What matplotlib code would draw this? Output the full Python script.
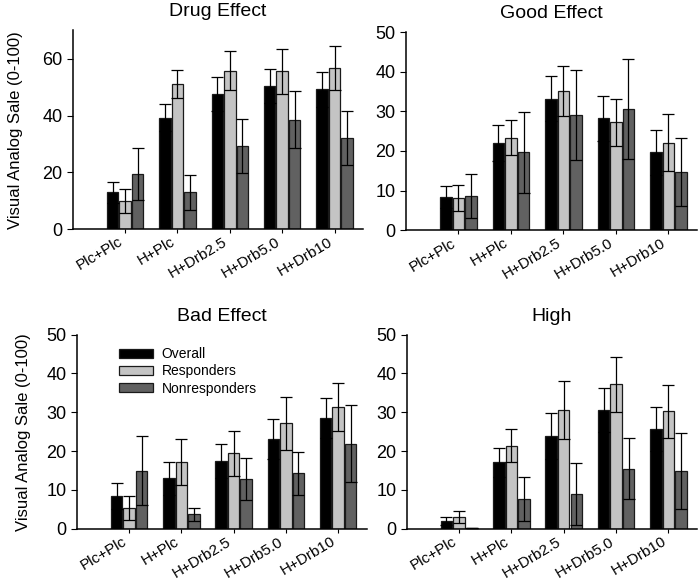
import matplotlib
matplotlib.use('Agg')
import matplotlib.pyplot as plt
import numpy as np

plt.rcParams['font.family'] = ['Liberation Sans', 'DejaVu Sans']

groups = ['Plc+Plc', 'H+Plc', 'H+Drb2.5', 'H+Drb5.0', 'H+Drb10']
series = ['Overall', 'Responders', 'Nonresponders']
colors = ['#000000', '#c4c4c4', '#616161']

# means and error (SEM) per panel, rows = Overall, Responders, Nonresponders
drug_mean = [[12.9, 39.3, 47.5, 50.5, 49.2],
             [10.0, 51.1, 55.8, 55.6, 56.8],
             [19.4, 12.9, 29.3, 38.5, 32.0]]
drug_err = [[3.8, 4.8, 6.0, 6.0, 6.2],
            [4.3, 5.0, 6.9, 7.9, 7.7],
            [9.0, 6.2, 9.5, 10.0, 9.5]]

good_mean = [[8.3, 22.1, 33.2, 28.2, 19.7],
             [8.2, 23.4, 35.2, 27.2, 22.1],
             [8.6, 19.7, 29.1, 30.6, 14.7]]
good_err = [[2.8, 4.5, 5.6, 5.6, 5.7],
            [3.3, 4.5, 6.3, 6.0, 7.2],
            [5.6, 10.2, 11.3, 12.5, 8.7]]

bad_mean = [[8.4, 13.0, 17.5, 23.1, 28.5],
            [5.4, 17.2, 19.5, 27.2, 31.4],
            [15.0, 3.7, 12.9, 14.3, 21.9]]
bad_err = [[3.3, 4.2, 4.3, 5.2, 5.2],
           [3.1, 5.8, 5.8, 6.8, 6.1],
           [8.8, 1.7, 5.4, 5.5, 9.9]]

high_mean = [[2.0, 17.1, 23.9, 30.6, 25.7],
             [3.0, 21.4, 30.6, 37.2, 30.3],
             [0.2, 7.7, 9.0, 15.5, 14.9]]
high_err = [[1.1, 3.7, 5.9, 5.7, 5.6],
            [1.5, 4.3, 7.4, 7.1, 6.8],
            [0.1, 5.6, 7.9, 7.8, 9.8]]

panels = [
    ('Drug Effect', drug_mean, drug_err, 70, [0, 20, 40, 60], [0.104, 0.607, 0.415, 0.341], 14),
    ('Good Effect', good_mean, good_err, 50, [0, 10, 20, 30, 40, 50], [0.580, 0.605, 0.416, 0.340], 0),
    ('Bad Effect', bad_mean, bad_err, 50, [0, 10, 20, 30, 40, 50], [0.110, 0.093, 0.414, 0.333], 11),
    ('High', high_mean, high_err, 50, [0, 10, 20, 30, 40, 50], [0.581, 0.093, 0.415, 0.333], 0),
]

fig = plt.figure(figsize=(7, 5.83), dpi=100)
x = np.arange(1, len(groups) + 1)
w = 0.22
step = 0.24

for k, (title, means, errs, ytop, yt, rect, lpad) in enumerate(panels):
    ax = fig.add_axes(rect)
    for i in range(3):
        ax.bar(x + (i - 1) * step, means[i], w, color=colors[i],
               edgecolor='#1a1a1a', linewidth=0.9, label=series[i], zorder=2)
        ax.errorbar(x + (i - 1) * step, means[i], yerr=errs[i], fmt='none',
                    ecolor='black', elinewidth=0.9, capsize=4, capthick=0.9, zorder=3)
    ax.set_xlim(0, 5.55)
    ax.set_ylim(0, ytop)
    ax.set_yticks(yt)
    ax.set_xticks(x)
    ax.set_xticklabels(groups, rotation=31, ha='right', fontsize=11)
    ax.tick_params(axis='y', labelsize=13, length=4, direction='out')
    ax.tick_params(axis='x', length=3, direction='out', pad=1)
    for s in ['top', 'right']:
        ax.spines[s].set_visible(False)
    for s in ['left', 'bottom']:
        ax.spines[s].set_linewidth(1.1)
    ax.set_title(title, fontsize=14, pad=10)
    if k % 2 == 0:
        ax.set_ylabel('Visual Analog Sale (0-100)', fontsize=12, labelpad=lpad)
    if k == 2:
        ax.legend(loc='upper left', bbox_to_anchor=(0.12, 0.97), frameon=False,
                  fontsize=10, handlelength=2.5, handleheight=0.55,
                  labelspacing=0.22, handletextpad=0.6, borderpad=0)

fig.savefig('out.png', dpi=100)
